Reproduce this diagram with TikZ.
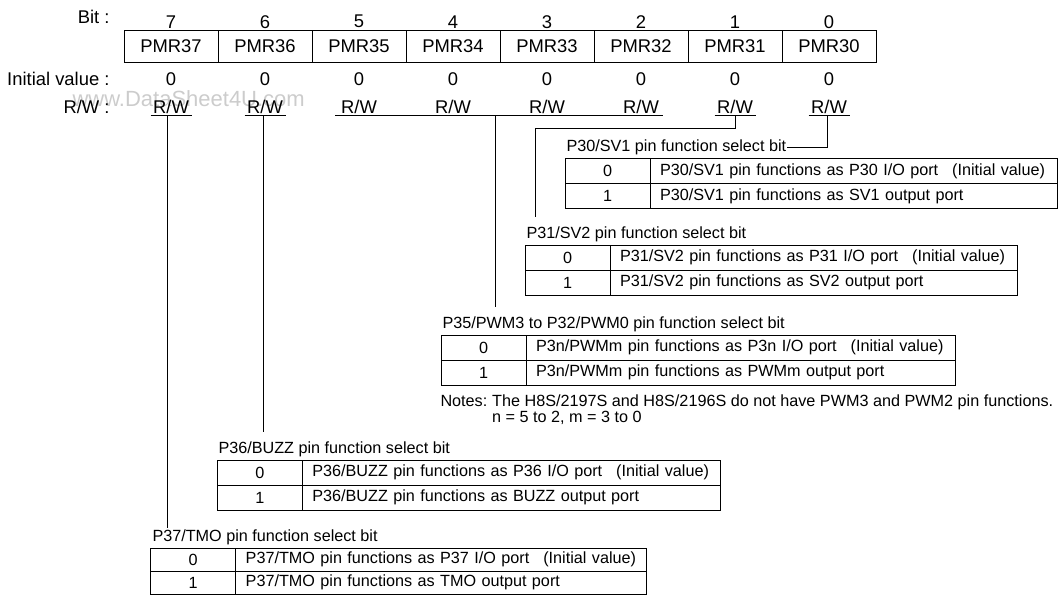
\documentclass[tikz,border=0pt]{standalone}
\usepackage{fontspec}
\setmainfont{Liberation Sans}
\usetikzlibrary{positioning,calc}

\begin{document}
\begin{tikzpicture}[
  x=1pt, y=-1pt, line width=1pt,
  font=\fontsize{16.2}{19}\selectfont,
  reg/.style={font=\fontsize{18.4}{22}\selectfont, inner sep=0pt},
  regcell/.style={reg, draw, outer sep=0pt, minimum width=94pt, minimum height=31.3pt},
  head/.style={reg, anchor=east},
  title/.style={anchor=base west, inner sep=0pt},
  keycell/.style={draw, anchor=north west, outer sep=0pt, inner sep=0pt, minimum width=85pt, minimum height=25pt},
  desc/.style={draw, anchor=north west, outer sep=0pt, inner ysep=0pt, inner xsep=10pt, minimum height=25pt, text width=#1,
    execute at begin node=\hbox\bgroup, execute at end node=\egroup},
  conn/.style={shorten >=#1},
  conn/.default=9pt
]
\useasboundingbox (0,0) rectangle (1062,596);

% watermark
\node[reg, anchor=west, font=\fontsize{22}{26}\selectfont, text=black!20] (wm) at (72,99) {www.DataSheet4U.com};

% register
\node[head] (bitlbl) at (110,17) {Bit :};
\node[head] (ivlbl) at (110,79.3) {Initial value :};
\node[head] (rwlbl) at (110,106.7) {R/W :};
\foreach \b [count=\i from 0] in {7,6,...,0} {
  \node[reg] (bit\b) at (171+94*\i,21.7) {\b};
  \node[regcell] (c\b) at (171+94*\i,46.65) {PMR3\b};
  \node[reg] (iv\b) at (171+94*\i,79.3) {0};
  \node[reg] (rw\b) at (171+94*\i,106.7) {R/W};
  \coordinate (u\b) at (171+94*\i,116);
}
\foreach \b in {7,6,1,0}
  \draw ([xshift=-20.5pt]u\b) -- ([xshift=20.5pt]u\b);
\draw ([xshift=-24pt]u5) -- ([xshift=22pt]u2);

% P30/SV1
\node[title] (p30) at (566,151.8) {P30/SV1 pin function select bit};
\node[keycell] (p30k0) at (565,158.5) {0};
\node[desc=387pt] (p30d0) at (p30k0.north east) {P30/SV1 pin functions as P30 I/O port\hspace{14pt}(Initial value)};
\node[keycell] (p30k1) at (p30k0.south west) {1};
\node[desc=387pt] (p30d1) at (p30k1.north east) {P30/SV1 pin functions as SV1 output port};

% P31/SV2
\node[title] (p31) at (526,238.3) {P31/SV2 pin function select bit};
\node[keycell] (p31k0) at (525,245.3) {0};
\node[desc=387pt] (p31d0) at (p31k0.north east) {P31/SV2 pin functions as P31 I/O port\hspace{14pt}(Initial value)};
\node[keycell] (p31k1) at (p31k0.south west) {1};
\node[desc=387pt] (p31d1) at (p31k1.north east) {P31/SV2 pin functions as SV2 output port};

% P35/PWM3 to P32/PWM0
\node[title] (p35) at (442,328.3) {P35/PWM3 to P32/PWM0 pin function select bit};
\node[keycell] (p35k0) at (441,335) {0};
\node[desc=409pt] (p35d0) at (p35k0.north east) {P3n/PWMm pin functions as P3n I/O port\hspace{14pt}(Initial value)};
\node[keycell] (p35k1) at (p35k0.south west) {1};
\node[desc=409pt] (p35d1) at (p35k1.north east) {P3n/PWMm pin functions as PWMm output port};
\node[title] (notes) at (440,406.8) {Notes:};
\node[title] (note1) at (491.7,406.8) {The H8S/2197S and H8S/2196S do not have PWM3 and PWM2 pin functions.};
\node[title] (note2) at (491.7,422.8) {n = 5 to 2, m = 3 to 0};

% P36/BUZZ
\node[title] (p36) at (218,453.3) {P36/BUZZ pin function select bit};
\node[keycell] (p36k0) at (217.3,460) {0};
\node[desc=398pt] (p36d0) at (p36k0.north east) {P36/BUZZ pin functions as P36 I/O port\hspace{14pt}(Initial value)};
\node[keycell] (p36k1) at (p36k0.south west) {1};
\node[desc=398pt] (p36d1) at (p36k1.north east) {P36/BUZZ pin functions as BUZZ output port};

% P37/TMO
\node[title] (p37) at (152,541.8) {P37/TMO pin function select bit};
\node[keycell, minimum height=23pt] (p37k0) at (150.7,548) {0};
\node[desc=391pt, minimum height=23pt] (p37d0) at (p37k0.north east) {P37/TMO pin functions as P37 I/O port\hspace{14pt}(Initial value)};
\node[keycell, minimum height=23pt] (p37k1) at (p37k0.south west) {1};
\node[desc=391pt, minimum height=23pt] (p37d1) at (p37k1.north east) {P37/TMO pin functions as TMO output port};

% connectors
\coordinate (j7) at ([xshift=-4pt]u7);
\coordinate (j6) at ([xshift=-2pt]u6);
\coordinate (j52) at ($(u4)!0.45!(u3)$);
\coordinate (k1) at (535,128.3);
\coordinate (j0) at ([xshift=-2pt]u0);
\draw[conn=2pt] (j7) -- (j7 |- p37.north);
\draw[conn] (j6) -- (j6 |- p36.north);
\draw[conn] (j52) -- (j52 |- p35.north);
\draw[conn] (u1) |- (k1) -- (k1 |- p31.north);
\draw (j0) |- (p30.east);
\end{tikzpicture}
\end{document}
